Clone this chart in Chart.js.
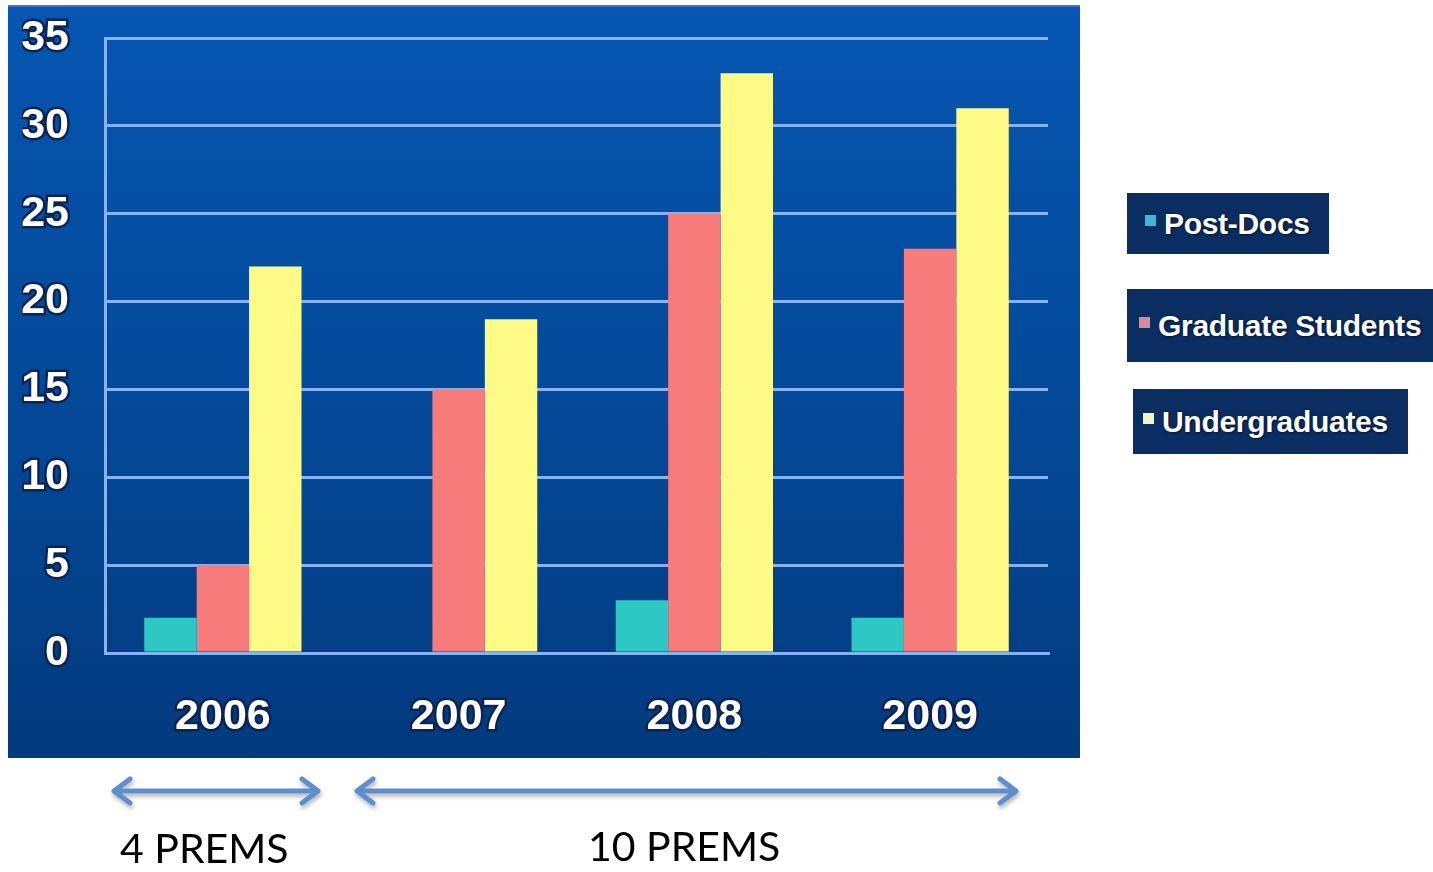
<!DOCTYPE html>
<html>
<head>
<meta charset="utf-8">
<script src="https://cdn.jsdelivr.net/npm/chart.js@4/dist/chart.umd.min.js"></script>
<style>
  body { margin: 0; background: #fff; width: 1433px; height: 872px; position: relative; overflow: hidden; }
  #panel {
    position: absolute; left: 8px; top: 5px; width: 1072px; height: 753px;
    background: linear-gradient(to bottom, #0656b2 0%, #044a9a 50%, #033a7e 100%);
    border-top: 2px solid #3d78c4; box-sizing: border-box;
  }
  #myChart { position: absolute; left: 0; top: -2px; }
  .legend-box {
    position: absolute; background: #0b2e62; color: #fff;
    font: bold 30px "Liberation Sans", Arial, sans-serif;
    text-shadow: 0 0 3px #0a1a3a, 1px 1px 2px #0a1a3a;
    display: flex; align-items: center; box-sizing: border-box; white-space: nowrap;
    letter-spacing: -0.3px;
  }
  .legend-box span.sw { display: inline-block; width: 11px; height: 11px; margin-right: 8px; margin-top: -6px; }
  .note { position: absolute; font: 41px Lato, "Open Sans", sans-serif; color: #000; }
</style>
</head>
<body>
<div id="panel"><canvas id="myChart" width="1072" height="753"></canvas></div>
<div id="legend"></div>
<svg width="1433" height="872" style="position:absolute;left:0;top:0;pointer-events:none">
  <defs>
    <filter id="sh" x="-5%" y="-50%" width="110%" height="200%">
      <feDropShadow dx="1" dy="3" stdDeviation="2" flood-color="#000" flood-opacity="0.3"/>
    </filter>
  </defs>
  <g stroke="#5b8fcc" stroke-width="5" fill="none" stroke-linecap="round" stroke-linejoin="round" filter="url(#sh)">
    <path d="M114 791 H318 M130 779 L114 791 L130 803 M302 779 L318 791 L302 803"/>
    <path d="M357 791 H1016 M373 779 L357 791 L373 803 M1000 779 L1016 791 L1000 803"/>
  </g>
</svg>
<div class="note" style="left:120px;top:823px">4 PREMS</div>
<div class="note" style="left:588px;top:821px">10 PREMS</div>
<script>
// values
const years = ['2006', '2007', '2008', '2009'];
const postDocs = [2, 0, 3, 2];
const gradStudents = [5, 15, 25, 23];
const undergrads = [22, 19, 33, 31];
const yTicks = [0, 5, 10, 15, 20, 25, 30, 35];

const seriesNames = ['Post-Docs', 'Graduate Students', 'Undergraduates'];
const seriesColors = ['#2ec8c4', '#f77b7b', '#fdfb86'];
const legendSwatches = ['#3fb6d6', '#d98a9a', '#f2f4c2'];
const legendBoxes = [
  { left: 1127, top: 193, width: 202, height: 61, pad: 18 },
  { left: 1127, top: 289, width: 306, height: 73, pad: 12 },
  { left: 1133, top: 389, width: 275, height: 65, pad: 10 }
];

const lineColor = '#86b4f2';

const data = {
    labels: years,
    datasets: [postDocs, gradStudents, undergrads].map(function(values, i) {
        return {
            label: seriesNames[i],
            data: values,
            backgroundColor: seriesColors[i],
            borderWidth: 0,
            categoryPercentage: 0.667,
            barPercentage: 1.0
        };
    })
};

const tickFont = { family: '"Liberation Sans", Arial, sans-serif', size: 43, weight: 'bold' };

const config = {
    type: 'bar',
    data,
    options: {
        responsive: false,
        animation: false,
        layout: { padding: { left: 14, right: 32, top: 33, bottom: 18 } },
        plugins: {
            legend: { display: false },
            tooltip: { enabled: false }
        },
        scales: {
            y: {
                min: 0,
                max: 35,
                afterBuildTicks: function(axis) {
                    axis.ticks = yTicks.map(function(v) { return { value: v }; });
                },
                afterFit: function(axis) {
                    axis.width = 83;
                    axis.paddingTop = 0;
                    axis.paddingBottom = 0;
                },
                grid: { color: lineColor, lineWidth: 3, drawTicks: false },
                border: { display: true, color: lineColor, width: 3 },
                ticks: {
                    color: '#ffffff',
                    font: tickFont,
                    padding: 36,
                    textStrokeColor: '#0b2452',
                    textStrokeWidth: 5
                }
            },
            x: {
                afterFit: function(axis) {
                    axis.height = 87;
                    axis.paddingLeft = 0;
                    axis.paddingRight = 0;
                },
                grid: {
                    drawTicks: false,
                    lineWidth: 3,
                    color: function(ctx) {
                        // only the two outer edges of the frame are drawn
                        return (ctx.index === 0 || ctx.index === years.length) ? lineColor : 'rgba(0,0,0,0)';
                    }
                },
                border: { display: true, color: lineColor, width: 3 },
                ticks: {
                    color: '#ffffff',
                    font: tickFont,
                    padding: 38,
                    textStrokeColor: '#0b2452',
                    textStrokeWidth: 5
                }
            }
        }
    }
};

const chart = new Chart(document.getElementById('myChart'), config);

// legend boxes built from the datasets
const legend = document.getElementById('legend');
chart.data.datasets.forEach(function(ds, i) {
    const b = legendBoxes[i];
    const div = document.createElement('div');
    div.className = 'legend-box';
    div.style.left = b.left + 'px';
    div.style.top = b.top + 'px';
    div.style.width = b.width + 'px';
    div.style.height = b.height + 'px';
    div.style.paddingLeft = b.pad + 'px';
    const sw = document.createElement('span');
    sw.className = 'sw';
    sw.style.background = legendSwatches[i];
    div.appendChild(sw);
    div.appendChild(document.createTextNode(ds.label));
    legend.appendChild(div);
});
</script>
</body>
</html>
